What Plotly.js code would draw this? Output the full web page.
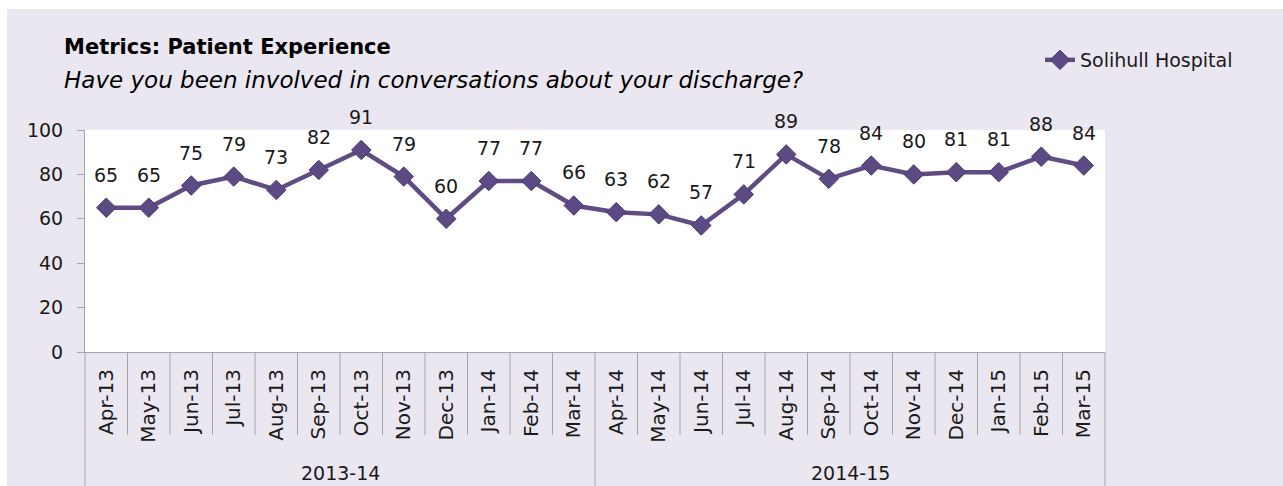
<!DOCTYPE html>
<html>
<head>
<meta charset="utf-8">
<script src="https://cdn.plot.ly/plotly-3.0.1.min.js"></script>
<style>
  html, body { margin: 0; padding: 0; background: #ffffff; }
  #chart { position: absolute; left: 7px; top: 9px; width: 1276px; height: 477px; }
</style>
</head>
<body>
<div id="chart"></div>
<script>
// ---- data ----
const months = ["Apr-13","May-13","Jun-13","Jul-13","Aug-13","Sep-13","Oct-13","Nov-13","Dec-13","Jan-14","Feb-14","Mar-14",
                "Apr-14","May-14","Jun-14","Jul-14","Aug-14","Sep-14","Oct-14","Nov-14","Dec-14","Jan-15","Feb-15","Mar-15"];
const values = [65,65,75,79,73,82,91,79,60,77,77,66,63,62,57,71,89,78,84,80,81,81,88,84];
const groupLabels = ["2013-14","2014-15"];
const groupSizes = [12,12];
const seriesName = "Solihull Hospital";
const titleText = "Metrics: Patient Experience";
const subtitleText = "Have you been involved in conversations about your discharge?";
const yTicks = [0,20,40,60,80,100];

// ---- styling ----
const lineColor = "#5E4C82";
const markerColor = "#5B4A84";
const bg = "#EBE7F1";
const axisGray = "#A6A6A6";
const textColor = "#1a1a1a";
const mainFont = "DejaVu Sans";
const titleFont = "DejaVu Sans";

const plotH = 222; // plot area height in px (for paper conversions)
const plotW = 1020;
const n = months.length;

const trace = {
  x: months,
  y: values,
  type: "scatter",
  mode: "lines+markers",
  name: seriesName,
  line: { color: lineColor, width: 4.5 },
  marker: { symbol: "diamond", size: 15, color: markerColor, line: { color: "#4B3B6E", width: 1 } },
  hoverinfo: "x+y"
};

const shapes = [];
const annotations = [];

// category dividers
const groupBounds = [0];
groupSizes.forEach((s, i) => groupBounds.push(groupBounds[i] + s));
for (let i = 0; i <= n; i++) {
  const isGroup = groupBounds.includes(i);
  shapes.push({
    type: "line", xref: "paper", yref: "paper",
    x0: i / n, x1: i / n, y0: 0, y1: isGroup ? -140 / plotH : -83 / plotH,
    line: { color: axisGray, width: 1 }
  });
}
// group labels
groupLabels.forEach((g, i) => {
  annotations.push({
    text: g, xref: "paper", yref: "paper",
    x: (groupBounds[i] + groupBounds[i + 1]) / 2 / n, y: -121 / plotH,
    xanchor: "center", yanchor: "middle", showarrow: false,
    font: { family: mainFont, size: 19, color: textColor }
  });
});
// data labels
months.forEach((m, i) => {
  annotations.push({
    text: String(values[i]), x: m, y: values[i], xref: "x", yref: "y",
    showarrow: false, yshift: 33, xanchor: "center", yanchor: "middle",
    font: { family: mainFont, size: 19, color: textColor }
  });
});
// titles
annotations.push({
  text: "<b>" + titleText + "</b>", xref: "paper", yref: "paper",
  x: -23 / plotW, y: (121 - 38) / plotH + 1, xanchor: "left", yanchor: "middle", showarrow: false,
  font: { family: titleFont, size: 21, color: "#000" }
});
annotations.push({
  text: "<i>" + subtitleText + "</i>", xref: "paper", yref: "paper",
  x: -23 / plotW, y: (121 - 71) / plotH + 1, xanchor: "left", yanchor: "middle", showarrow: false,
  font: { family: titleFont, size: 23, color: "#000" }
});

const layout = {
  width: 1276, height: 477,
  margin: { l: 78, r: 178, t: 121, b: 134, autoexpand: false },
  paper_bgcolor: bg,
  plot_bgcolor: "#ffffff",
  showlegend: true,
  legend: {
    x: (1040 - 85) / plotW, xanchor: "left", y: (121 - 51) / plotH + 1, yanchor: "middle",
    bgcolor: "rgba(0,0,0,0)",
    font: { family: mainFont, size: 19, color: textColor }
  },
  xaxis: {
    type: "category",
    tickangle: -90,
    ticks: "",
    showline: true, linecolor: axisGray, linewidth: 1,
    showgrid: false, zeroline: false,
    tickfont: { family: mainFont, size: 20, color: textColor },
    ticklabelstandoff: 8,
    range: [-0.5, n - 0.5]
  },
  yaxis: {
    range: [0, 100],
    tickvals: yTicks,
    ticks: "outside", ticklen: 7, tickcolor: axisGray,
    showline: true, linecolor: axisGray, linewidth: 1,
    showgrid: false, zeroline: false,
    tickfont: { family: mainFont, size: 19, color: textColor },
    ticklabelstandoff: 10
  },
  shapes: shapes,
  annotations: annotations
};

Plotly.newPlot("chart", [trace], layout, { displayModeBar: false });
</script>
</body>
</html>
